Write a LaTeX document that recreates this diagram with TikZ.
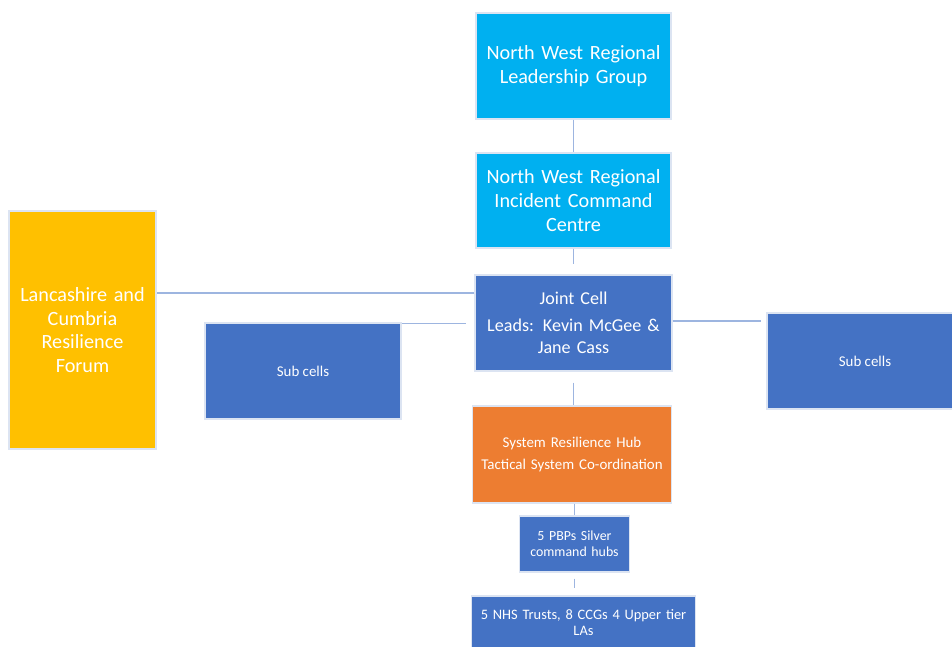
\documentclass[tikz,border=0pt]{standalone}
\usepackage{fontspec}
\setmainfont{Carlito}
\usepackage{tikz}
\usetikzlibrary{positioning,calc}
\definecolor{RegCyan}{HTML}{00B0F0}
\definecolor{CellBlue}{HTML}{4472C4}
\definecolor{HubOrange}{HTML}{ED7D31}
\definecolor{ForumGold}{HTML}{FFC000}
\definecolor{LinkBlue}{HTML}{9DB5E0}
\definecolor{EdgeGrey}{HTML}{DCE4F2}

\begin{document}
\begin{tikzpicture}[
  unit/.style={rectangle,draw=EdgeGrey,line width=0.6pt,text=white,align=center,
               inner sep=2pt},
  region/.style={unit,fill=RegCyan,minimum width=3.9cm,text width=3.7cm,
                 font=\fontsize{11.5}{13.7}\selectfont},
  cell/.style={unit,fill=CellBlue},
  link/.style={draw=LinkBlue,line width=0.85pt}
]
  \clip (0,0) rectangle (19.04,-12.92);
  \fill[white] (0,0) rectangle (19.04,-12.92);

  \node[region,minimum height=2.12cm] (lead) at (11.47,-1.32)
       {North West Regional\\Leadership Group};
  \node[region,minimum height=1.9cm] (icc) at (11.47,-4.01)
       {North West Regional\\Incident Command\\Centre};
  \node[cell,minimum width=3.9cm,minimum height=1.92cm,text width=3.8cm,
        font=\fontsize{10.3}{12.5}\selectfont] (joint) at (11.47,-6.46)
       {Joint Cell\\[3pt]Leads: Kevin McGee \&\\Jane Cass};
  \node[unit,fill=ForumGold,minimum width=2.9cm,minimum height=4.76cm,text width=2.8cm,
        font=\fontsize{11.5}{13.4}\selectfont] (lancs) at (1.65,-6.6)
       {Lancashire and\\Cumbria\\Resilience\\Forum};
  \node[cell,minimum width=3.92cm,minimum height=1.92cm,
        font=\fontsize{8.5}{10}\selectfont] (subL) at (6.06,-7.42) {Sub cells};
  \node[cell,minimum width=3.92cm,minimum height=1.92cm,
        font=\fontsize{8.5}{10}\selectfont] (subR) at (17.3,-7.22) {Sub cells};
  \node[unit,fill=HubOrange,minimum width=3.92cm,minimum height=1.94cm,text width=3.85cm,
        font=\fontsize{8.5}{12.5}\selectfont] (hub) at (11.44,-9.09)
       {System Resilience Hub\\Tactical System Co-ordination};
  \node[cell,minimum width=2.14cm,minimum height=1.12cm,text width=2.05cm,
        font=\fontsize{7.9}{9.1}\selectfont] (pbp) at (11.49,-10.88)
       {5 PBPs Silver\\command hubs};
  \node[cell,minimum width=4.38cm,minimum height=1.06cm,text width=4.34cm,
        font=\fontsize{8.2}{9.6}\selectfont] (trusts) at (11.67,-12.45)
       {5 NHS Trusts, 8 CCGs 4 Upper tier\\LAs};

  % connectors
  \draw[link] (lead) -- (icc);
  \draw[link,shorten >=0.2cm] (icc) -- (joint);
  \coordinate (jl) at ($(joint.north west)!0.19!(joint.south west)$);
  \draw[link] (jl) -- (jl -| lancs.east);
  \draw[link,shorten >=0.16cm] ([yshift=-0.02cm]subL.north east)
        -- ([yshift=-0.02cm]subL.north east -| joint.west);
  \draw[link,shorten >=0.1cm] ([yshift=0.04cm]joint.east)
        -- ([yshift=0.04cm]joint.east -| subR.west);
  \draw[link,shorten <=0.22cm] (joint.south) -- (joint.south |- hub.north);
  \draw[link] (pbp.north |- hub.south) -- (pbp.north);
  \draw[link,shorten <=0.12cm,shorten >=0.14cm] (pbp.south) -- (pbp.south |- trusts.north);
\end{tikzpicture}
\end{document}
